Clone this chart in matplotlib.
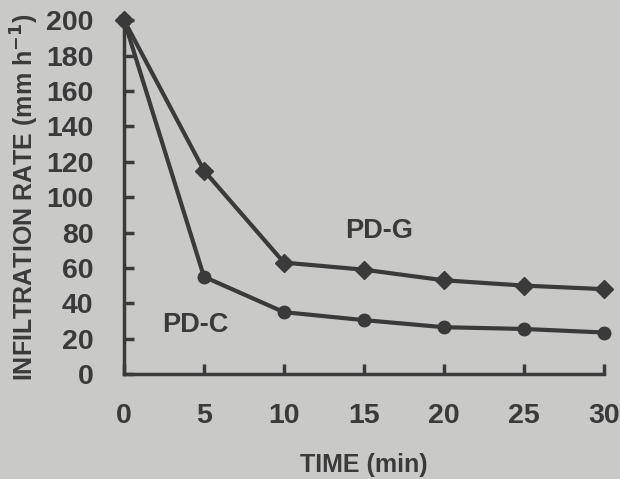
import matplotlib.pyplot as plt

# data
time = [0, 5, 10, 15, 20, 25, 30]
pd_g = [200, 115, 63, 59, 53, 50, 48]
pd_c = [200, 55, 35, 30.5, 26.5, 25.5, 23.5]
xticks = [0, 5, 10, 15, 20, 25, 30]
yticks = list(range(0, 201, 20))

bg = '#c9c9c7'
ink = '#3a3a3a'

plt.rcParams['font.family'] = ['Liberation Sans', 'DejaVu Sans']
plt.rcParams['font.weight'] = 'bold'
plt.rcParams['mathtext.default'] = 'bf'

fig = plt.figure(figsize=(6.2, 4.79), dpi=100, facecolor=bg)
ax = fig.add_axes([0.2, 0.219, 0.774, 0.739])
ax.set_facecolor(bg)

ax.plot(time, pd_g, color=ink, lw=3, marker='D', ms=9, clip_on=False, zorder=3)
ax.plot(time, pd_c, color=ink, lw=3, marker='o', ms=9, clip_on=False, zorder=3)

ax.set_xlim(0, 30)
ax.set_ylim(0, 200)
ax.set_xticks(xticks)
ax.set_yticks(yticks)

for s in ['top', 'right']:
    ax.spines[s].set_visible(False)
for s in ['left', 'bottom']:
    ax.spines[s].set_linewidth(2.5)
    ax.spines[s].set_color(ink)

ax.tick_params(direction='in', length=7, width=2.5, colors=ink, labelsize=20.5)
ax.tick_params(axis='x', pad=21)
ax.tick_params(axis='y', pad=22)
for lab in ax.get_xticklabels() + ax.get_yticklabels():
    lab.set_fontweight('bold')

ax.set_xlabel('TIME (min)', fontsize=18, fontweight='bold', color=ink, labelpad=17)
ax.set_ylabel('INFILTRATION RATE (mm h$^{-1}$)', fontsize=18, fontweight='bold',
              color=ink, labelpad=4)

ax.text(13.8, 77, 'PD-G', fontsize=19.5, fontweight='bold', color=ink)
ax.text(2.4, 24, 'PD-C', fontsize=19.5, fontweight='bold', color=ink)

fig.savefig('out.png', dpi=100, facecolor=bg)
